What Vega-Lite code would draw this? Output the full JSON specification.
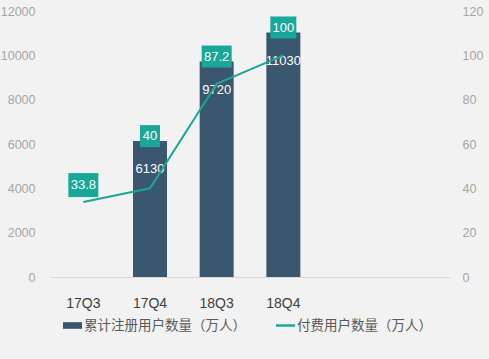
{
  "$schema": "https://vega.github.io/schema/vega-lite/v6.json",
  "width": 400,
  "height": 266,
  "autosize": {"type": "none"},
  "padding": {"left": 50, "top": 11, "right": 39, "bottom": 82},
  "background": "#f2f2f2",
  "config": {
    "view": {"stroke": null},
    "font": "Liberation Sans",
    "axis": {"grid": false, "ticks": false, "domain": false, "labelFont": "Liberation Sans", "labelColor": "#a6a6a6", "labelFontSize": 12.5, "title": null}
  },
  "data": {"values": [
    {"quarter": "17Q3", "total": null, "paid": 33.8},
    {"quarter": "17Q4", "total": 6130, "paid": 40},
    {"quarter": "18Q3", "total": 9720, "paid": 87.2},
    {"quarter": "18Q4", "total": 11030, "paid": 100}
  ]},
  "encoding": {
    "x": {
      "field": "quarter", "type": "nominal",
      "scale": {"domain": ["17Q3", "17Q4", "18Q3", "18Q4", " ", "  "], "paddingInner": 0.49, "paddingOuter": 0.245},
      "axis": {"title": null, "labelAngle": 0, "domain": true, "domainColor": "#d9d9d9", "labelColor": "#404040", "labelFontSize": 14, "labelPadding": 19}
    }
  },
  "layer": [
    {
      "encoding": {
        "y": {"field": "total", "type": "quantitative", "scale": {"domain": [0, 12000]},
              "axis": {"title": null, "orient": "left", "values": [0, 2000, 4000, 6000, 8000, 10000, 12000], "format": "d", "labelPadding": 15}}
      },
      "layer": [
        {
          "mark": {"type": "bar"},
          "encoding": {
            "color": {
              "datum": "累计注册用户数量（万人）", "type": "nominal",
              "scale": {"domain": ["累计注册用户数量（万人）", "付费用户数量（万人）"], "range": ["#3b566f", "#17a899"]},
              "legend": {
                "orient": "none", "legendX": 13, "legendY": 305, "direction": "horizontal", "title": null,
                "labelFont": "Noto Sans CJK SC", "labelFontSize": 13.5, "labelColor": "#595959", "labelLimit": 0,
                "symbolSize": 361, "labelOffset": 2, "columnPadding": 30,
                "encode": {"symbols": {"update": {
                  "shape": {"signal": "datum.value == '付费用户数量（万人）' ? 'M-1,-0.13L1,-0.13L1,0.13L-1,0.13Z' : 'M-1,-0.35L1,-0.35L1,0.35L-1,0.35Z'"},
                  "fill": {"scale": "color", "field": "value"},
                  "strokeWidth": {"value": 0}
                }}}
              }
            }
          }
        },
        {
          "transform": [{"filter": "datum.total != null"}],
          "mark": {"type": "text", "color": "white", "fontSize": 13, "dy": 28},
          "encoding": {"text": {"field": "total", "type": "quantitative", "format": "d"}}
        },
        {
          "transform": [{"filter": "datum.total != null"}],
          "mark": {"type": "point", "filled": true, "opacity": 1, "size": 4, "color": "#17a899", "strokeWidth": 0},
          "encoding": {
            "shape": {"field": "quarter", "type": "nominal", "legend": null,
              "scale": {"domain": ["17Q3", "17Q4", "18Q3", "18Q4"],
                        "range": ["M-15,-29L15,-29L15,-5L-15,-5Z", "M-10,-16L10,-16L10,6L-10,6Z", "M-15,-16L15,-16L15,6L-15,6Z", "M-13,-16L13,-16L13,6L-13,6Z"]}}
          }
        },
        {
          "transform": [{"filter": "datum.total != null"}],
          "mark": {"type": "text", "color": "white", "fontSize": 13, "dy": -5},
          "encoding": {"text": {"field": "paid", "type": "quantitative"}}
        }
      ]
    },
    {
      "encoding": {
        "y": {"field": "paid", "type": "quantitative", "scale": {"domain": [0, 120]},
              "axis": {"title": null, "orient": "right", "values": [0, 20, 40, 60, 80, 100, 120], "format": "d", "labelPadding": 12}}
      },
      "layer": [
        {
          "mark": {"type": "line", "strokeWidth": 2},
          "encoding": {"color": {"datum": "付费用户数量（万人）", "type": "nominal"}}
        },
        {
          "transform": [{"filter": "datum.quarter == '17Q3'"}],
          "mark": {"type": "point", "filled": true, "opacity": 1, "size": 4, "color": "#17a899", "strokeWidth": 0},
          "encoding": {"shape": {"field": "quarter", "type": "nominal", "legend": null}}
        },
        {
          "transform": [{"filter": "datum.quarter == '17Q3'"}],
          "mark": {"type": "text", "color": "white", "fontSize": 13, "dy": -17},
          "encoding": {"text": {"field": "paid", "type": "quantitative"}}
        }
      ]
    }
  ],
  "resolve": {"scale": {"y": "independent"}}
}
